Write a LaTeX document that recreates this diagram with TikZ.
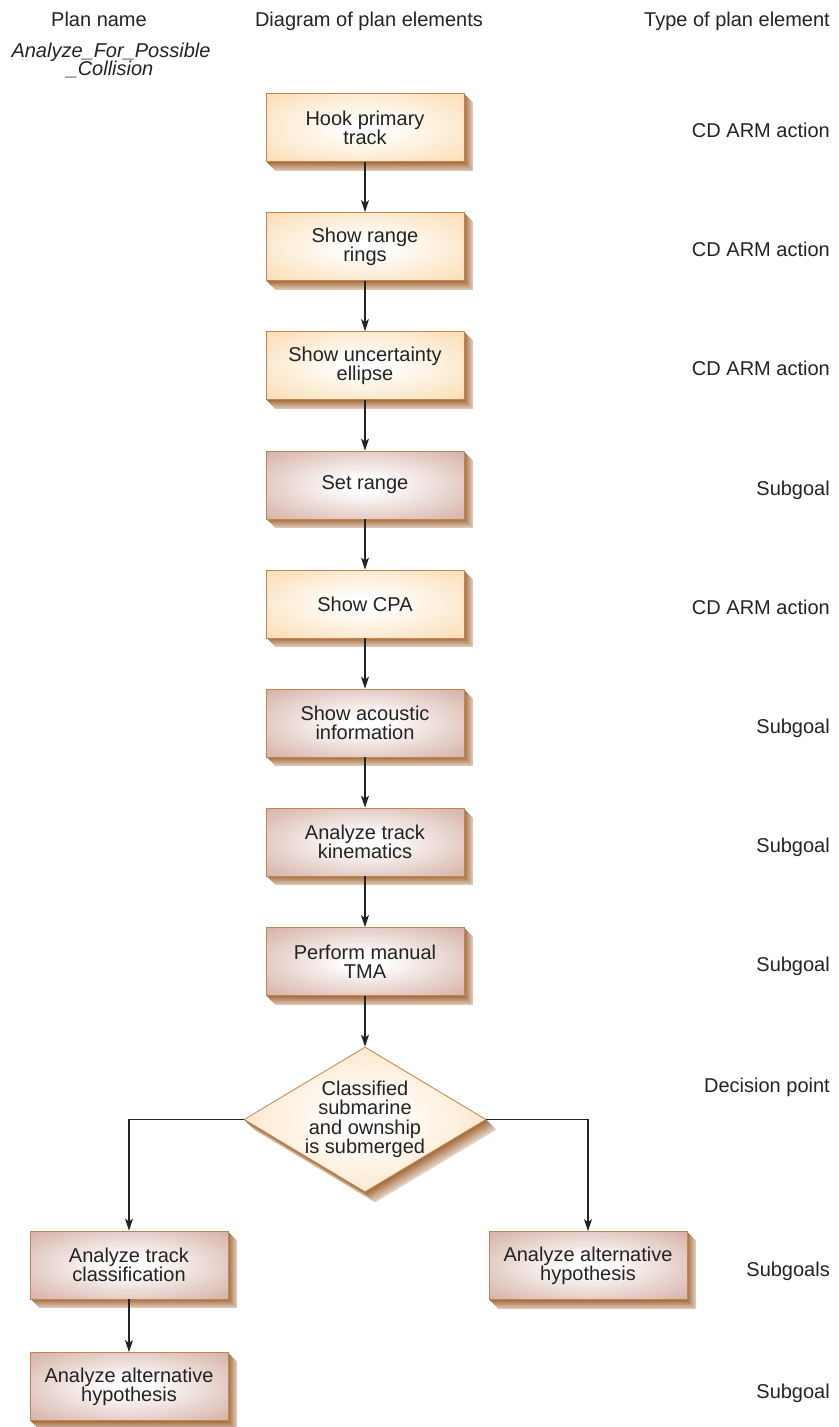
\documentclass[tikz,border=0pt]{standalone}
\usepackage{fontspec}
\setmainfont{Liberation Sans}
\usetikzlibrary{arrows.meta,shapes.geometric,backgrounds,calc}

\definecolor{ink}{RGB}{35,35,35}
\definecolor{peach}{RGB}{251,214,164}
\definecolor{mauve}{RGB}{204,160,148}
\definecolor{rim}{RGB}{196,132,78}
\definecolor{sidebrown}{RGB}{160,100,50}

% soft glow from a white centre to the face colour
\pgfdeclareradialshading{actionglow}{\pgfpoint{0bp}{0bp}}{color(0bp)=(white); color(5bp)=(white); color(42bp)=(peach); color(75bp)=(peach)}
\pgfdeclareradialshading{goalglow}{\pgfpoint{0bp}{0bp}}{color(0bp)=(white); color(5bp)=(white); color(42bp)=(mauve); color(75bp)=(mauve)}

\newcommand{\labelfont}{\fontsize{20}{19}\selectfont}

\begin{document}
\begin{tikzpicture}[x=1pt,y=-1pt,
  every node/.style={text=ink, font=\labelfont},
  face/.style={rectangle, minimum width=198pt, minimum height=68pt, inner sep=0pt,
               align=center, draw=rim, line width=0.8pt},
  actionbox/.style={face, shading=actionglow},
  goalbox/.style={face, shading=goalglow},
  decision/.style={diamond, minimum width=242pt, minimum height=145pt, inner sep=0pt,
                   draw=rim, line width=0.8pt, shading=actionglow},
  kind/.style={anchor=base east, inner sep=0pt},
  flow/.style={draw=ink, line width=1.1pt, -{Stealth[length=12pt,width=8pt,inset=3pt]}}
]
\useasboundingbox (0,0) rectangle (838,1427);

% column headings
\node[anchor=base] (hname) at (99,26) {Plan name};
\node[anchor=base] (hdiag) at (369,26) {Diagram of plan elements};
\node[kind] (htype) at (830,26) {Type of plan element};
\node[anchor=base, font=\labelfont\itshape] (pn1) at (111,57) {Analyze\_For\_Possible};
\node[anchor=base, font=\labelfont\itshape] (pn2) at (110,75) {\_Collision};

% plan elements
\node[actionbox] (hook)     at (365,127.5) {Hook primary\\track};
\node[actionbox] (rings)    at (365,246.5) {Show range\\rings};
\node[actionbox] (ellipse)  at (365,365.5) {Show uncertainty\\ellipse};
\node[goalbox]   (range)    at (365,485)   {Set range};
\node[actionbox] (cpa)      at (365,604)   {Show CPA};
\node[goalbox]   (acoustic) at (365,723)   {Show acoustic\\information};
\node[goalbox]   (kinem)    at (365,842)   {Analyze track\\kinematics};
\node[goalbox]   (tma)      at (365,961.5) {Perform manual\\TMA};
\node[decision]  (dec)      at (365,1119.5) {};
\node[align=center, font=\fontsize{20}{19.5}\selectfont] (dectext) at (dec) {Classified\\submarine\\and ownship\\is submerged};
\node[goalbox]   (classif)  at (129,1265)  {Analyze track\\classification};
\node[goalbox]   (altL)     at (129,1386.5) {Analyze alternative\\hypothesis};
\node[goalbox]   (altR)     at (588,1265.5) {Analyze alternative\\hypothesis};

% extruded sides
\begin{scope}[on background layer]
  \foreach \b in {hook,rings,ellipse,range,cpa,acoustic,kinem,tma,classif,altL,altR} {
    \foreach \k in {9,...,1} {
      \pgfmathtruncatemacro\tint{100-7*\k}
      \fill[sidebrown!\tint!white] ($(\b.north west)+(\k,\k)$) rectangle ($(\b.south east)+(\k,\k)$);
    }
  }
  \foreach \k in {10,...,1} {
    \pgfmathtruncatemacro\tint{100-7*\k}
    \fill[sidebrown!\tint!white] ($(dec.north)+(\k,\k)$) -- ($(dec.east)+(\k,\k)$)
      -- ($(dec.south)+(\k,\k)$) -- ($(dec.west)+(\k,\k)$) -- cycle;
  }
\end{scope}

% connectors
\draw[flow] (hook) -- (rings);
\draw[flow] (rings) -- (ellipse);
\draw[flow] (ellipse) -- (range);
\draw[flow] (range) -- (cpa);
\draw[flow] (cpa) -- (acoustic);
\draw[flow] (acoustic) -- (kinem);
\draw[flow] (kinem) -- (tma);
\draw[flow] (tma) -- (dec);
\draw[flow] (dec.west) -| (classif.north);
\draw[flow] (dec.east) -| (altR.north);
\draw[flow] (classif) -- (altL);

% element types
\node[kind] (t1)  at (830,137.5)  {CD ARM action};
\node[kind] (t2)  at (830,256.5)  {CD ARM action};
\node[kind] (t3)  at (830,375.5)  {CD ARM action};
\node[kind] (t4)  at (830,495)    {Subgoal};
\node[kind] (t5)  at (830,614)    {CD ARM action};
\node[kind] (t6)  at (830,733)    {Subgoal};
\node[kind] (t7)  at (830,852)    {Subgoal};
\node[kind] (t8)  at (830,971.5)  {Subgoal};
\node[kind] (t9)  at (830,1092)   {Decision point};
\node[kind] (t10) at (830,1276)   {Subgoals};
\node[kind] (t11) at (830,1398)   {Subgoal};
\end{tikzpicture}
\end{document}
